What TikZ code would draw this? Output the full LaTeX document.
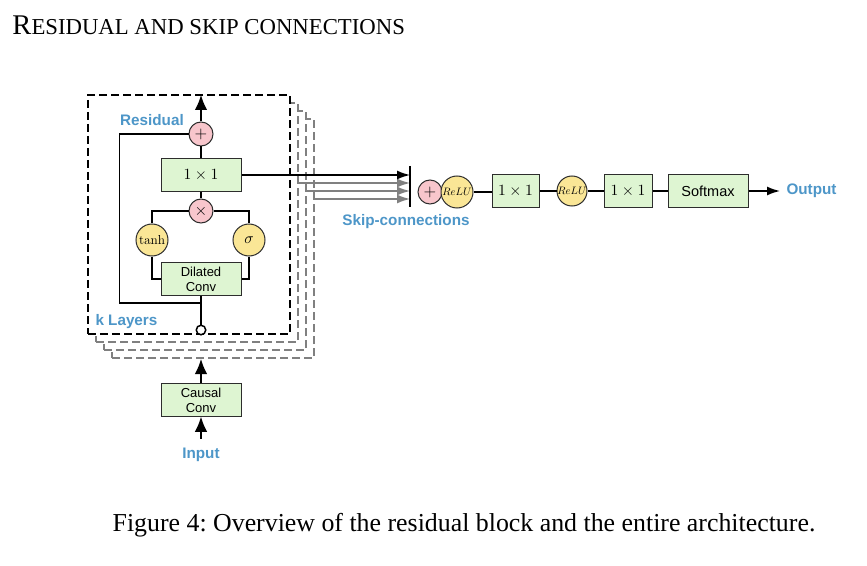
\documentclass[tikz,border=0pt]{standalone}
\usepackage[no-math]{fontspec}
\setmainfont{Liberation Serif}
\setsansfont{Liberation Sans}
% freely scalable Computer Modern for the small math labels
\DeclareFontShape{OML}{cmm}{m}{it}{<->cmmi10}{}
\DeclareFontShape{OT1}{cmr}{m}{n}{<->cmr10}{}
\DeclareFontShape{OMS}{cmsy}{m}{n}{<->cmsy10}{}
\usetikzlibrary{arrows.meta}
\definecolor{lblue}{RGB}{77,150,200}
\definecolor{boxgreen}{RGB}{222,245,210}
\definecolor{opink}{RGB}{248,198,204}
\definecolor{oyellow}{RGB}{250,230,150}
\definecolor{edge}{RGB}{45,45,45}
\definecolor{skipgray}{RGB}{128,128,128}
\frenchspacing
\begin{document}
\begin{tikzpicture}[x=0.4pt,y=-0.4pt,
  wire/.style={line width=0.6pt},
  opbox/.style={draw=edge, line width=0.4pt, fill=boxgreen, inner sep=0pt,
    minimum width=32pt, minimum height=13pt, align=center,
    font=\fontsize{5.2}{6}\selectfont\sffamily},
  mathbox/.style={opbox, font=\fontsize{6.25}{7}\selectfont},
  opcirc/.style={circle, draw=edge, line width=0.4pt, fill=opink, inner sep=0pt,
    minimum size=9.6pt, font=\fontsize{6.5}{7}\selectfont},
  actcirc/.style={circle, draw=edge, line width=0.4pt, fill=oyellow, inner sep=0pt,
    minimum size=12.8pt},
  tag/.style={font=\fontsize{6.1}{7}\selectfont\sffamily\bfseries, text=lblue, inner sep=0pt},
  layerbox/.style={dash pattern=on 3.2pt off 1.6pt, line width=0.7pt, fill=white,
    minimum width=80.8pt, minimum height=95.6pt, inner sep=0pt},
  bigtip/.style={-{Latex[length=6pt,width=5pt]}},
  smalltip/.style={-{Latex[length=5.2pt,width=3.6pt]}}
]
\useasboundingbox (0,0) rectangle (867,566);

% heading and caption
\node[anchor=base west, inner sep=0pt] (head) at (12,35)
  {\fontsize{11.4}{13}\selectfont R\fontsize{9.1}{11}\selectfont ESIDUAL AND SKIP CONNECTIONS};
\node[anchor=base, inner sep=0pt] (cap) at (464,531)
  {\fontsize{10.34}{12}\selectfont Figure 4: Overview of the residual block and the entire architecture.};

% stacked residual layers, back to front
\node[layerbox, draw=skipgray] (lay3) at (213,238.5) {};
\node[layerbox, draw=skipgray] (lay2) at (205,230.5) {};
\node[layerbox, draw=skipgray] (lay1) at (197,222.5) {};
\node[layerbox, draw=black] (lay0) at (189,214.5) {};

% residual block
\node[opcirc] (plus) at (201,134) {$+$};
\node[mathbox] (one) at (201,175) {$1\times1$};
\node[opcirc] (times) at (201,211) {$\times$};
\node[actcirc, font=\fontsize{5.2}{6}\selectfont] (tanh) at (152,240) {$\tanh$};
\node[actcirc, font=\fontsize{6.2}{7}\selectfont] (sig) at (249,240) {$\sigma$};
\node[opbox] (dil) at (201,279) {Dilated\\Conv};
\node[circle, draw=black, line width=0.6pt, fill=white, inner sep=0pt, minimum size=3.8pt] (tap) at (201,330) {};
\coordinate (resjoin) at (201,303);
\coordinate (resout) at (201,95);

\draw[wire] (dil.south) -- (tap.north);
\draw[wire] (plus.west) -- ++(-69,0) |- (resjoin);
\draw[wire] (tanh.south) |- (dil.west);
\draw[wire] (sig.south) |- (dil.east);
\draw[wire] (times.west) -| (tanh.north);
\draw[wire] (times.east) -| (sig.north);
\draw[wire] (one.south) -- (times.north);
\draw[wire] (plus.south) -- (one.north);
\draw[wire, bigtip] (plus.north) -- (resout);

\node[tag] (restag) at (152,120) {Residual};
\node[tag, anchor=west] (ktag) at (95,322) {k Layers};

% input stage
\node[opbox] (causal) at (201,400) {Causal\\Conv};
\node[tag] (in) at (201,455) {Input};
\coordinate (stackin) at (201,359);
\draw[wire, bigtip] (causal.north) -- (stackin);
\draw[wire, bigtip, shorten <=3.6pt] (in.north) -- (causal.south);

% skip connections
\coordinate (bartop) at (410,166);
\coordinate (barbot) at (410,207);
\coordinate (s1) at (298,183);
\coordinate (s2) at (306,191);
\coordinate (s3) at (314,199);
\draw[wire, skipgray, smalltip] (s1) -- (s1 -| bartop);
\draw[wire, skipgray, smalltip] (s2) -- (s2 -| bartop);
\draw[wire, skipgray, smalltip] (s3) -- (s3 -| bartop);
\draw[wire, smalltip] (one.east) -- (one.east -| bartop);
\draw[wire] (bartop) -- (barbot);
\node[tag] (skiptag) at (406,222) {Skip-connections};

% output stage
\node[opcirc] (sum) at (430,192) {$+$};
\node[actcirc, font=\fontsize{4.3}{5}\selectfont] (relu1) at (457,192) {$ReLU$};
\node[mathbox, minimum width=18.8pt] (conv1) at (515.5,191) {$1\times1$};
\node[actcirc, minimum size=12pt, font=\fontsize{4.3}{5}\selectfont] (relu2) at (572,191) {$ReLU$};
\node[mathbox, minimum width=19.2pt] (conv2) at (628,191) {$1\times1$};
\node[opbox, font=\fontsize{5.8}{7}\selectfont\sffamily] (soft) at (708,191) {Softmax};
\node[tag, anchor=west] (out) at (786,191) {Output};

\draw[wire] (relu1.east) -- (relu1.east -| conv1.west);
\draw[wire] (conv1.east) -- (relu2.west);
\draw[wire] (relu2.east) -- (conv2.west);
\draw[wire] (conv2.east) -- (soft.west);
\draw[wire, smalltip, shorten >=2.4pt] (soft.east) -- (out.west);
\end{tikzpicture}
\end{document}
